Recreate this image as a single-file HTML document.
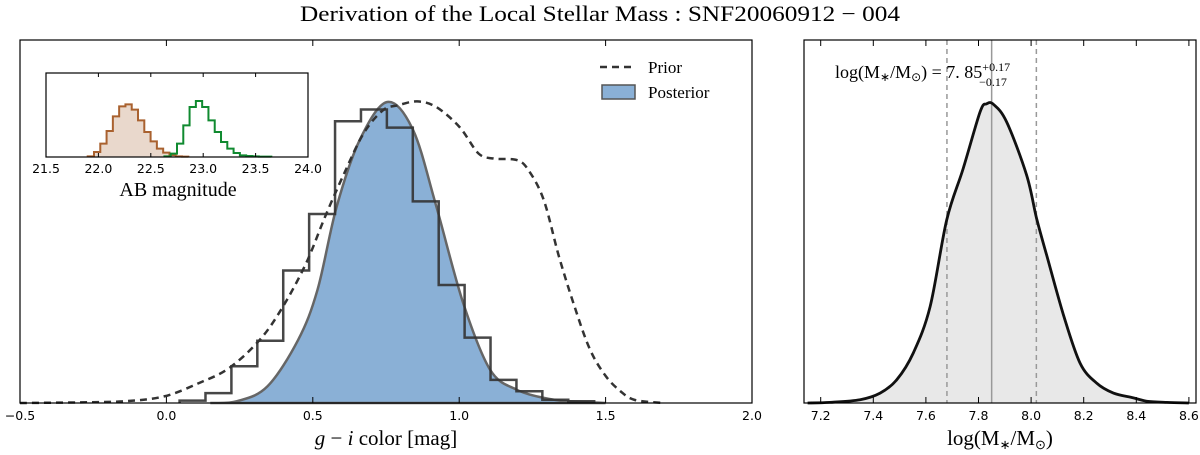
<!DOCTYPE html>
<html><head><meta charset="utf-8"><style>
body{margin:0;background:#fff}
svg{display:block;font-family:"Liberation Serif",serif}
.tk{font-family:"DejaVu Sans","Liberation Sans",sans-serif;font-size:12.5px}
</style></head><body>
<svg id="c" width="1200" height="455" viewBox="0 0 1200 455">
<text x="600" y="21" text-anchor="middle" font-size="22" textLength="600" lengthAdjust="spacingAndGlyphs">Derivation of the Local Stellar Mass : SNF20060912 − 004</text>
<g id="L"></g>
<g id="I"></g>
<g id="R"></g>
<text x="386" y="445" text-anchor="middle" font-size="21"><tspan font-style="italic">g</tspan> − <tspan font-style="italic">i</tspan> color [mag]</text>
<text x="1000" y="445" text-anchor="middle" font-size="21">log(M<tspan font-size="13" dy="4">∗</tspan><tspan dy="-4">/M</tspan><tspan font-size="13" dy="4">⊙</tspan><tspan dy="-4">)</tspan></text>
<text x="178" y="196" text-anchor="middle" font-size="20">AB magnitude</text>
<g>
<line x1="600" y1="67" x2="636" y2="67" stroke="#333" stroke-width="2.5" stroke-dasharray="7,5"/>
<text x="648" y="73" font-size="17">Prior</text>
<rect x="602" y="85" width="33" height="14" fill="#8ab0d6" stroke="#555" stroke-width="1.5"/>
<text x="648" y="98" font-size="17">Posterior</text>
</g>
<text x="835" y="78" font-size="18">log(M<tspan font-size="12" dy="3">∗</tspan><tspan dy="-3">/M</tspan><tspan font-size="12" dy="3">⊙</tspan><tspan dy="-3">) = 7. 85</tspan><tspan font-size="12" dy="-7">+0.17</tspan><tspan font-size="12" dx="-31" dy="15">−0.17</tspan></text>
</svg>
<script>
// ---- data ----
const histEdgeStart = 0.045, histBinWidth = 0.0885;
const histCounts = [0.008,0.033,0.122,0.207,0.44,0.628,0.936,0.975,0.915,0.67,0.392,0.217,0.077,0.039,0.011,0.006];
const postX = [0.15,0.241,0.345,0.45,0.516,0.581,0.66,0.754,0.843,0.922,1.014,1.106,1.197,1.289,1.368,1.5];
const postY = [0,0.006,0.055,0.21,0.376,0.65,0.873,1.0,0.906,0.652,0.331,0.11,0.044,0.017,0.006,0];
const priorX = [-0.5,-0.3,-0.139,-0.008,0.111,0.214,0.319,0.398,0.477,0.542,0.607,0.673,0.739,0.791,0.857,0.922,1.001,1.066,1.119,1.197,1.237,1.289,1.341,1.394,1.447,1.5,1.55,1.6,1.7];
const priorY = [0,0.002,0.006,0.022,0.066,0.116,0.21,0.32,0.464,0.619,0.762,0.895,0.972,0.989,1.002,0.983,0.917,0.829,0.812,0.807,0.773,0.674,0.486,0.32,0.177,0.09,0.04,0.01,0];
const leftTicks = [-0.5,0.0,0.5,1.0,1.5,2.0];
const leftTickLabels = ["−0.5","0.0","0.5","1.0","1.5","2.0"];
const insetTicks = [21.5,22.0,22.5,23.0,23.5,24.0];
const insetTickLabels = ["21.5","22.0","22.5","23.0","23.5","24.0"];
const insetBin = 0.06;
const brownStart = 21.898;
const brownCounts = [2,15,40,78,122,152,158,142,110,75,47,25,13,6,2,1];
const greenStart = 22.63;
const greenCounts = [2,10,40,95,150,168,150,110,75,45,25,12,5,3,2,1,1];
const massX = [7.15,7.235,7.35,7.426,7.489,7.552,7.616,7.679,7.742,7.806,7.831,7.857,7.907,7.983,8.021,8.059,8.123,8.186,8.249,8.313,8.389,8.44,8.516,8.6];
const massY = [0,0.002,0.011,0.033,0.077,0.166,0.32,0.608,0.779,0.967,0.994,0.992,0.934,0.757,0.613,0.492,0.293,0.133,0.066,0.033,0.017,0.006,0.002,0];
const massMedian = 7.85, massLow = 7.68, massHigh = 8.02;
const rightTicks = [7.2,7.4,7.6,7.8,8.0,8.2,8.4,8.6];
const rightTickLabels = ["7.2","7.4","7.6","7.8","8.0","8.2","8.4","8.6"];

const NS="http://www.w3.org/2000/svg";
function mk(p,t,a){const e=document.createElementNS(NS,t);for(const k in a)e.setAttribute(k,a[k]);p.appendChild(e);return e;}
function smooth(pts){
 let d='M'+pts[0][0].toFixed(1)+','+pts[0][1].toFixed(1);
 for(let i=0;i<pts.length-1;i++){
  const p0=pts[Math.max(0,i-1)],p1=pts[i],p2=pts[i+1],p3=pts[Math.min(pts.length-1,i+2)];
  const c1=[p1[0]+(p2[0]-p0[0])/6,p1[1]+(p2[1]-p0[1])/6];
  const c2=[p2[0]-(p3[0]-p1[0])/6,p2[1]-(p3[1]-p1[1])/6];
  d+='C'+c1[0].toFixed(1)+','+c1[1].toFixed(1)+' '+c2[0].toFixed(1)+','+c2[1].toFixed(1)+' '+p2[0].toFixed(1)+','+p2[1].toFixed(1);
 }
 return d;
}
function steps(start,w,counts,sx,sy,base){let d='M'+sx(start)+','+base;counts.forEach((c,i)=>{d+='L'+sx(start+i*w)+','+sy(c)+'L'+sx(start+(i+1)*w)+','+sy(c);});d+='L'+sx(start+counts.length*w)+','+base;return d;}
function ticksAxis(g,ticks,labels,sx,top,bot,len,ly,namePrefix){
 ticks.forEach((t,i)=>{const x=sx(t);
  const a=mk(g,'line',{x1:x,y1:bot,x2:x,y2:bot-len,stroke:'#000'});
  
  
  const b=mk(g,'line',{x1:x,y1:top,x2:x,y2:top+len,stroke:'#000'});
  
  
  const tx=mk(g,'text',{x:x,y:ly,'text-anchor':'middle',class:'tk'});tx.textContent=labels[i];
  
  
 });
}
// ---- left panel ----
const L=document.getElementById('L');
const lx0=20,lx1=752,ly0=40,ly1=403;
const sxL=v=>lx0+(v+0.5)/2.5*(lx1-lx0), syL=v=>ly1-v*301;
const pf=mk(L,'path',{d:smooth(postX.map((x,i)=>[sxL(x),syL(postY[i])]))+'Z',fill:'#8ab0d6',stroke:'#666','stroke-width':2.5});


const hs=mk(L,'path',{d:steps(histEdgeStart,histBinWidth,histCounts,sxL,syL,ly1),fill:'none',stroke:'#333','stroke-opacity':0.9,'stroke-width':2.5});


const pr=mk(L,'path',{d:smooth(priorX.map((x,i)=>[sxL(x),syL(priorY[i])])),fill:'none',stroke:'#333','stroke-width':2.5,'stroke-dasharray':'7,5'});


const fr=mk(L,'rect',{x:lx0,y:ly0,width:lx1-lx0,height:ly1-ly0,fill:'none',stroke:'#000','stroke-width':1.2});


ticksAxis(L,leftTicks,leftTickLabels,sxL,ly0,ly1,6,420,'color-x');
// ---- inset ----
const I=document.getElementById('I');
const ix0=46,ix1=308,iy0=73,iy1=157;
const sxI=v=>ix0+(v-21.5)/2.5*(ix1-ix0), syI=v=>iy1-v/3;
const br=mk(I,'path',{d:steps(brownStart,insetBin,brownCounts,sxI,syI,iy1),fill:'#e9d8cc',stroke:'#a9612f','stroke-width':2});


const gr=mk(I,'path',{d:steps(greenStart,insetBin,greenCounts,sxI,syI,iy1),fill:'none',stroke:'#108a30','stroke-width':2});


const ifr=mk(I,'rect',{x:ix0,y:iy0,width:ix1-ix0,height:iy1-iy0,fill:'none',stroke:'#000','stroke-width':1.2});


ticksAxis(I,insetTicks,insetTickLabels,sxI,iy0,iy1,4,173,'inset-x');
// ---- right panel ----
const R=document.getElementById('R');
const rx0=804,rx1=1196,ry0=40,ry1=403;
const sxR=v=>820.7+(v-7.2)*263, syR=v=>ry1-v*301;
const mPts=massX.map((x,i)=>[sxR(x),syR(massY[i])]);
const mf=mk(R,'path',{d:smooth(mPts)+'Z',fill:'#e8e8e8',stroke:'none'});


[[massLow,'5,4','mass-lower-bound'],[massHigh,'5,4','mass-upper-bound'],[massMedian,'','mass-median-line']].forEach(v=>{
 const l=mk(R,'line',{x1:sxR(v[0]),x2:sxR(v[0]),y1:ry0,y2:ry1,stroke:'#999','stroke-width':1.5,'stroke-dasharray':v[1]||'none'});
 
 
});
const mc=mk(R,'path',{d:smooth(mPts),fill:'none',stroke:'#111','stroke-width':2.8});


const rfr=mk(R,'rect',{x:rx0,y:ry0,width:rx1-rx0,height:ry1-ry0,fill:'none',stroke:'#000','stroke-width':1.2});


ticksAxis(R,rightTicks,rightTickLabels,sxR,ry0,ry1,6,420,'mass-x');
</script>
</body></html>
